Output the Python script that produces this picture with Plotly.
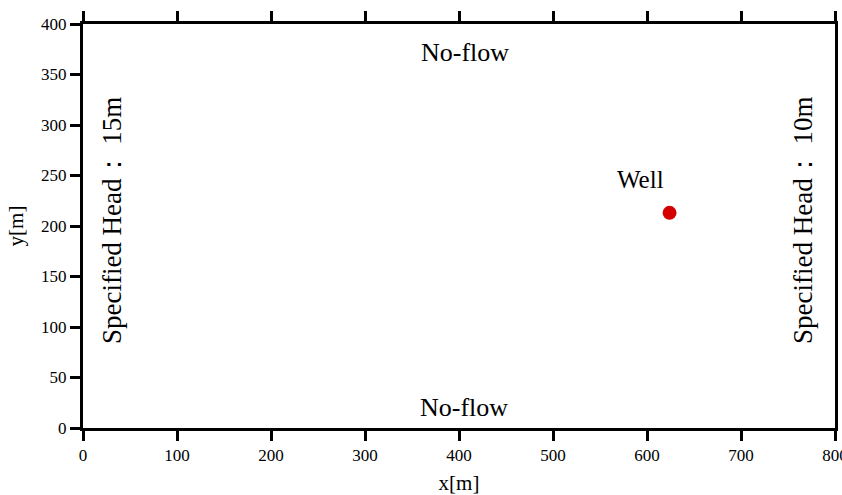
import plotly.graph_objects as go

# Data
well_x = [624]
well_y = [213]
well_label = "Well"
x_ticks = [0, 100, 200, 300, 400, 500, 600, 700, 800]
y_ticks = [0, 50, 100, 150, 200, 250, 300, 350, 400]
boundary_labels = ["No-flow", "No-flow", "Specified Head： 15m", "Specified Head： 10m"]
boundary_x = [406, 405, 31, 766]
boundary_y = [372, 20, 205, 205]
boundary_angle = [0, 0, -90, -90]
boundary_size = [26, 26, 27, 27]

FONT = "Liberation Serif, Times New Roman, serif"

fig = go.Figure()
fig.add_trace(go.Scatter(
    x=well_x, y=well_y, mode="markers",
    marker=dict(color="#d40000", size=14),
    showlegend=False, hoverinfo="skip"))

fig.add_annotation(x=593, y=246, text=well_label, showarrow=False,
                   font=dict(family=FONT, size=25, color="black"))
for t, x, y, a, s in zip(boundary_labels, boundary_x, boundary_y, boundary_angle, boundary_size):
    fig.add_annotation(x=x, y=y, text=t, showarrow=False, textangle=a,
                       font=dict(family=FONT, size=s, color="black"))

axis_common = dict(
    showgrid=False, zeroline=False, showline=True, linecolor="black", linewidth=3,
    ticks="outside", ticklen=10, tickwidth=2.5, tickcolor="black",
    tickfont=dict(family=FONT, size=17, color="black"),
    ticklabeloverflow="allow", automargin=False,
)
fig.update_xaxes(range=[0, 800], tickvals=x_ticks, mirror="ticks",
                 title=dict(text="x[m]", font=dict(family=FONT, size=21, color="black"), standoff=14),
                 **axis_common)
fig.update_yaxes(range=[0, 400], tickvals=y_ticks, mirror=True,
                 title=dict(text="y[m]", font=dict(family=FONT, size=21, color="black"), standoff=12),
                 **axis_common)
fig.update_layout(
    width=842, height=495,
    margin=dict(l=83, r=7, t=24, b=67),
    plot_bgcolor="white", paper_bgcolor="white",
)
fig.write_html("out.html")
